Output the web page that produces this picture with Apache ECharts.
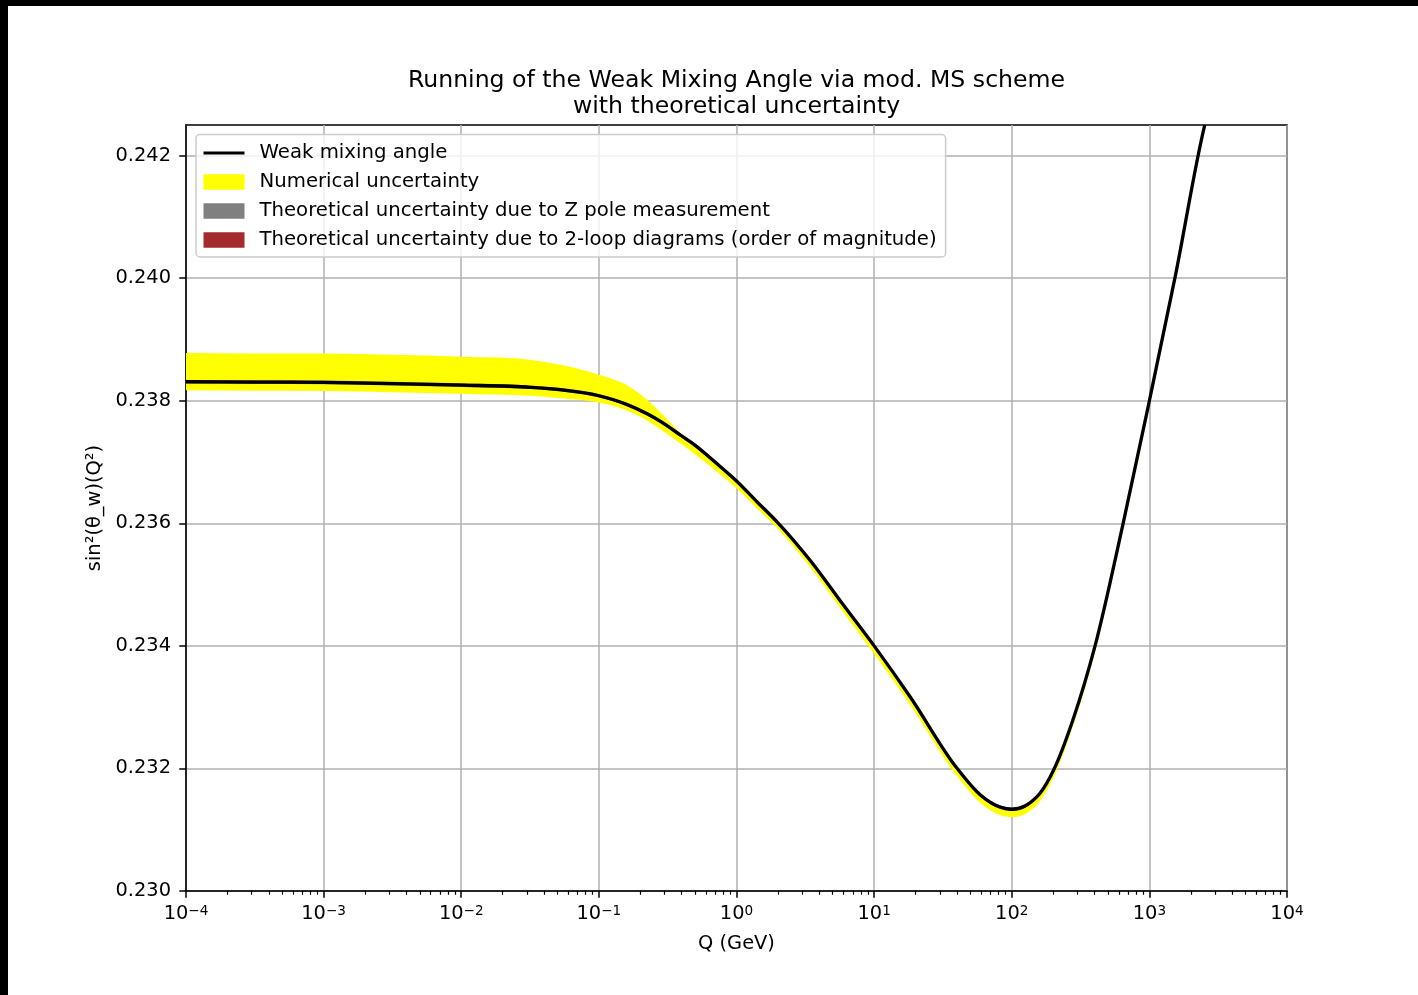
<!DOCTYPE html>
<html>
<head>
<meta charset="utf-8">
<script src="https://cdn.jsdelivr.net/npm/echarts@6/dist/echarts.min.js"></script>
<style>
  html, body { margin: 0; padding: 0; background: #000; width: 1418px; height: 995px; overflow: hidden; }
  #chart { position: absolute; left: 8px; top: 6px; width: 1410px; height: 989px; background: #fff; }
</style>
</head>
<body>
<div id="chart"></div>
<script>
// Momentum transfer Q in GeV
const qGeV = [
  1e-4, 3.16e-4, 1e-3, 3.16e-3, 1e-2, 0.0316, 0.0525, 0.1, 0.158, 0.224, 0.282, 0.398,
  0.501, 0.708, 1, 1.41, 2, 3.47, 5.89, 10, 18.2, 39.8, 58.9, 82.2, 100, 125, 141,
  160, 204, 275, 403, 646, 1000, 1535, 2535, 3162
];
// Central value of sin^2(theta_w)(Q^2)
const sin2w = [
  0.23831, 0.238305, 0.23830, 0.23828, 0.238256, 0.23822, 0.23818, 0.238082, 0.237944, 0.237788, 0.23766, 0.237429,
  0.237273, 0.236988, 0.236691, 0.236351, 0.236008, 0.23538, 0.234686, 0.23400, 0.233174, 0.23201, 0.231572, 0.23137, 0.231334, 0.231388, 0.231469,
  0.231592, 0.23200, 0.232759, 0.23400, 0.236008, 0.23800, 0.240008, 0.242514, 0.24329
];
// Numerical uncertainty band edges
const numLower = [
  0.23817, 0.238165, 0.23816, 0.23814, 0.238116, 0.23808, 0.23804, 0.23797, 0.237844, 0.237678, 0.23753, 0.237289,
  0.237123, 0.236858, 0.236571, 0.236241, 0.235908, 0.23527, 0.234566, 0.23387, 0.233044, 0.23188, 0.231442, 0.23124, 0.231204, 0.231258, 0.231339,
  0.231462, 0.23188, 0.232649, 0.2339, 0.235908, 0.2379, 0.239908, 0.242414, 0.24319
];
const numUpper = [
  0.23878, 0.23877, 0.23877, 0.23875, 0.23872, 0.23867, 0.238588, 0.238424, 0.238261, 0.238016, 0.237804, 0.237461,
  0.237282, 0.236998, 0.236701, 0.236361, 0.236018, 0.23539, 0.234696, 0.23401, 0.233184, 0.23202, 0.231582, 0.23138, 0.231344, 0.231398, 0.231479,
  0.231602, 0.23201, 0.232769, 0.23401, 0.236018, 0.23801, 0.240018, 0.242524, 0.2433
];
// Half widths of the theoretical uncertainty bands
const zPoleHalfWidth = 0.00003;
const twoLoopHalfWidth = 0.00002;

const yTicks = [0.230, 0.232, 0.234, 0.236, 0.238, 0.240, 0.242];
const decades = [-4, -3, -2, -1, 0, 1, 2, 3];
const minorTicks = [];
decades.forEach(e => { for (let m = 2; m <= 9; m++) minorTicks.push(m * Math.pow(10, e)); });

const FONT = 'DejaVu Sans';
const GRID_COLOR = '#b0b0b0';

const names = {
  line: 'Weak mixing angle',
  num: 'Numerical uncertainty',
  zpole: 'Theoretical uncertainty due to Z pole measurement',
  loop: 'Theoretical uncertainty due to 2-loop diagrams (order of magnitude)'
};

// Cubic Hermite curve through pixel points (y as a function of x),
// tangents from the three-point derivative for uneven spacing.
function hermiteSegments(pts) {
  const n = pts.length, m = new Array(n);
  for (let i = 0; i < n; i++) {
    if (i === 0) m[i] = (pts[1][1] - pts[0][1]) / (pts[1][0] - pts[0][0]);
    else if (i === n - 1) m[i] = (pts[i][1] - pts[i - 1][1]) / (pts[i][0] - pts[i - 1][0]);
    else {
      const h0 = pts[i][0] - pts[i - 1][0], h1 = pts[i + 1][0] - pts[i][0];
      const d0 = (pts[i][1] - pts[i - 1][1]) / h0, d1 = (pts[i + 1][1] - pts[i][1]) / h1;
      m[i] = (d0 * h1 + d1 * h0) / (h0 + h1);
    }
  }
  const segs = [];
  for (let i = 0; i < n - 1; i++) {
    const h = pts[i + 1][0] - pts[i][0];
    segs.push({
      p0: pts[i], p1: pts[i + 1],
      c0: [pts[i][0] + h / 3, pts[i][1] + m[i] * h / 3],
      c1: [pts[i + 1][0] - h / 3, pts[i + 1][1] - m[i + 1] * h / 3]
    });
  }
  return segs;
}
const fmt = p => p[0].toFixed(2) + ',' + p[1].toFixed(2);
function forwardPath(segs) {
  return segs.map(s => ' C' + fmt(s.c0) + ' ' + fmt(s.c1) + ' ' + fmt(s.p1)).join('');
}
function reversePath(segs) {
  return segs.slice().reverse().map(s => ' C' + fmt(s.c1) + ' ' + fmt(s.c0) + ' ' + fmt(s.p0)).join('');
}

function clipGroup(params, child) {
  const cs = params.coordSys;
  return {
    type: 'group',
    clipPath: { type: 'rect', shape: { x: cs.x, y: cs.y, width: cs.width, height: cs.height } },
    children: [child]
  };
}

function bandSeries(name, lower, upper, color, z) {
  return {
    name: name, type: 'custom', coordinateSystem: 'cartesian2d', clip: true, silent: true, z: z,
    data: qGeV.map((q, i) => [q, lower[i], upper[i]]),
    encode: { x: 0, y: [1, 2] },
    itemStyle: { color: color },
    renderItem: function (params, api) {
      if (params.dataIndex !== 0) return null;
      const up = hermiteSegments(qGeV.map((q, i) => api.coord([q, upper[i]])));
      const lo = hermiteSegments(qGeV.map((q, i) => api.coord([q, lower[i]])));
      const d = 'M' + fmt(up[0].p0) + forwardPath(up) +
        ' L' + fmt(lo[lo.length - 1].p1) + reversePath(lo) + ' Z';
      return clipGroup(params, { type: 'path', shape: { pathData: d }, style: { fill: color, stroke: null } });
    }
  };
}

function lineSeries(name, values, color, width, z) {
  return {
    name: name, type: 'custom', coordinateSystem: 'cartesian2d', clip: true, silent: true, z: z,
    data: qGeV.map((q, i) => [q, values[i]]),
    encode: { x: 0, y: 1 },
    itemStyle: { color: color },
    renderItem: function (params, api) {
      if (params.dataIndex !== 0) return null;
      const segs = hermiteSegments(qGeV.map((q, i) => api.coord([q, values[i]])));
      const d = 'M' + fmt(segs[0].p0) + forwardPath(segs);
      return clipGroup(params, { type: 'path', shape: { pathData: d },
        style: { fill: null, stroke: color, lineWidth: width, lineJoin: 'round', lineCap: 'butt' } });
    }
  };
}

const zLower = sin2w.map(v => v - zPoleHalfWidth), zUpper = sin2w.map(v => v + zPoleHalfWidth);
const lLower = sin2w.map(v => v - twoLoopHalfWidth), lUpper = sin2w.map(v => v + twoLoopHalfWidth);

function expLabel(v) {
  const e = Math.round(Math.log10(v));
  const s = e < 0 ? '\u2212' + (-e) : String(e);
  return '{b|10}{s|' + s + '}';
}

const chart = echarts.init(document.getElementById('chart'), null, { renderer: 'canvas' });
chart.setOption({
  animation: false,
  backgroundColor: '#fff',
  textStyle: { fontFamily: FONT },
  title: {
    text: 'Running of the Weak Mixing Angle via mod. MS scheme\nwith theoretical uncertainty',
    left: 728.5, top: 61.5, textAlign: 'center', padding: 0,
    textStyle: { fontFamily: FONT, fontSize: 23.6, fontWeight: 'normal', color: '#000', lineHeight: 26.5 }
  },
  legend: {
    left: 188, top: 128.5, orient: 'vertical',
    itemWidth: 41, itemHeight: 15.5, itemGap: 9,
    padding: [8.5, 9, 7, 7.5],
    backgroundColor: 'rgba(255,255,255,0.8)', borderColor: '#cccccc', borderWidth: 1.5, borderRadius: 4,
    selectedMode: false,
    textStyle: { fontFamily: FONT, fontSize: 19.7, color: '#000', lineHeight: 15.5, padding: [0, 0, 0, 10] },
    data: [
      { name: names.line, icon: 'path://M0,0H41V3H0Z' },
      { name: names.num, icon: 'rect' },
      { name: names.zpole, icon: 'rect' },
      { name: names.loop, icon: 'rect' }
    ]
  },
  grid: {
    left: 178, top: 119, width: 1101, height: 766,
    show: true, borderColor: '#000', borderWidth: 1.5, backgroundColor: 'transparent'
  },
  xAxis: [
    {
      type: 'log', logBase: 10, min: 1e-4, max: 1e4, position: 'bottom',
      name: 'Q (GeV)', nameLocation: 'middle', nameGap: 43,
      nameTextStyle: { fontFamily: FONT, fontSize: 19.4, color: '#000' },
      axisLine: { show: true, onZero: false, lineStyle: { color: '#000', width: 1.5 } },
      axisTick: { show: true, inside: false, length: 6.7, lineStyle: { color: '#000', width: 1.5 } },
      axisLabel: {
        show: true, margin: 13, showMinLabel: true, showMaxLabel: true,
        formatter: expLabel,
        rich: {
          b: { fontFamily: FONT, fontSize: 19.4, color: '#000' },
          s: { fontFamily: FONT, fontSize: 13.6, color: '#000', verticalAlign: 'top' }
        }
      },
      splitLine: { show: true, lineStyle: { color: GRID_COLOR, width: 1.5 } },
      minorTick: { show: false }
    },
    {
      type: 'log', logBase: 10, min: 1e-4, max: 1e4, position: 'bottom', gridIndex: 0,
      axisLine: { show: false },
      axisTick: { show: true, inside: false, length: 3.8, lineStyle: { color: '#000', width: 1.2 }, customValues: minorTicks },
      axisLabel: { show: false },
      splitLine: { show: false }
    }
  ],
  yAxis: {
    type: 'value', min: 0.230, max: 0.2425, interval: 0.002,
    name: 'sin\u00b2(\u03b8_w)(Q\u00b2)', nameLocation: 'middle', nameGap: 77,
    nameTextStyle: { fontFamily: FONT, fontSize: 19.4, color: '#000' },
    axisLine: { show: true, onZero: false, lineStyle: { color: '#000', width: 1.5 } },
    axisTick: { show: true, inside: false, length: 6.7, lineStyle: { color: '#000', width: 1.5 }, customValues: yTicks },
    axisLabel: {
      show: true, margin: 15, fontFamily: FONT, fontSize: 19.4, color: '#000',
      customValues: yTicks, formatter: v => v.toFixed(3)
    },
    splitLine: { show: true, lineStyle: { color: GRID_COLOR, width: 1.5 } }
  },
  series: [
    bandSeries(names.num, numLower, numUpper, '#ffff00', 2),
    bandSeries(names.zpole, zLower, zUpper, '#808080', 3),
    bandSeries(names.loop, lLower, lUpper, '#a52a2a', 4),
    lineSeries(names.line, sin2w, '#000000', 3.3, 5)
  ]
});
</script>
</body>
</html>
